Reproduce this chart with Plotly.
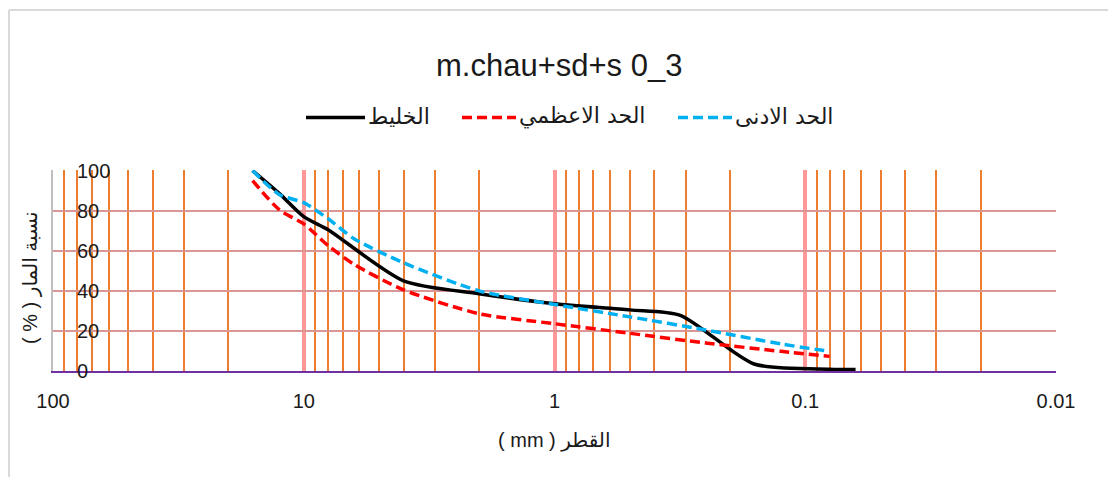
import plotly.graph_objects as go

# ---- data ----
title_text = "m.chau+sd+s 0_3"
series_names = ["الخليط", "الحد الاعظمي", "الحد الادنى"]

mix_size = [16, 12.5, 10, 8, 4, 2, 1, 0.5, 0.315, 0.16, 0.08, 0.063]
mix_pass = [100, 88.5, 77, 70.5, 45, 38.6, 33.6, 30.5, 27.8, 3.5, 0.9, 0.7]

max_size = [16, 12.5, 10, 8, 6.3, 4, 2, 1, 0.5, 0.25, 0.125, 0.08]
max_pass = [95, 80.4, 73.4, 62.6, 53.2, 40.5, 28.6, 23.6, 18.8, 14, 9.8, 7.3]

min_size = [16, 12.5, 10, 8, 6.3, 4, 2, 1, 0.5, 0.25, 0.125, 0.08]
min_pass = [100, 88, 84, 76, 66, 54, 40, 33.2, 27, 20.5, 13.5, 9.8]

x_tick_vals = [100, 10, 1, 0.1, 0.01]
x_tick_text = ["100", "10", "1", "0.1", "0.01"]
decades = [10, 1, 0.1, 0.01]
digits = [2, 3, 4, 5, 6, 7, 8, 9]
y_tick_vals = [0, 20, 40, 60, 80, 100]

x_title = "( mm ) القطر"
y_title = "( % ) نسبة المار"

# ---- layout helpers (page pixel -> paper); page has an 8px body margin ----
OFF = 8
W, H = 1100, 469
ML, MR, MT, MB = 45, 52, 162, 106
PW, PH = W - ML - MR, H - MT - MB


def px(x):
    return (x - OFF - ML) / PW


def py(y):
    return (H - MB - (y - OFF)) / PH


colors = ["#000000", "#FF0000", "#00B0F0"]
dashes = ["solid", "10px,5px", "10px,5px"]
widths = [3.5, 3.5, 3.5]

fig = go.Figure()
for name, xs, ys, c, d, w in zip(series_names,
                                 [mix_size, max_size, min_size],
                                 [mix_pass, max_pass, min_pass],
                                 colors, dashes, widths):
    fig.add_trace(go.Scatter(x=xs, y=ys, name=name, mode="lines",
                             line=dict(color=c, width=w, dash=d,
                                       shape="spline", smoothing=0.7),
                             showlegend=False))

minor_vals = [d * k for d in decades for k in digits]

fig.update_xaxes(type="log", range=[2, -2], tickmode="array",
                 tickvals=x_tick_vals, ticktext=x_tick_text,
                 showgrid=True, gridcolor="#FF9999", gridwidth=4,
                 minor=dict(tickmode="array", tickvals=minor_vals,
                            showgrid=True, gridcolor="#ED7D31", gridwidth=1.5,
                            ticks=""),
                 ticks="", showline=True, linecolor="#7030A0", linewidth=2,
                 zeroline=False,
                 tickfont=dict(family="Liberation Sans", size=20, color="#1a1a1a"),
                 ticklabelstandoff=11)
fig.update_yaxes(range=[0, 100.3], tickmode="array", tickvals=y_tick_vals,
                 showgrid=True, gridcolor="#D99694", gridwidth=1.5,
                 zeroline=False, showline=True, linecolor="#BFBFBF", linewidth=1.5,
                 ticks="", showticklabels=False)

shapes = []
annotations = []
# chart border (top and left)
shapes.append(dict(type="line", xref="paper", yref="paper",
                   x0=px(OFF + 1), y0=py(10), x1=px(W + OFF), y1=py(10),
                   line=dict(color="#D9D9D9", width=2)))
shapes.append(dict(type="line", xref="paper", yref="paper",
                   x0=px(OFF + 1), y0=py(10), x1=px(OFF + 1), y1=py(H + OFF),
                   line=dict(color="#D9D9D9", width=2)))

# y tick labels drawn inside the plot area, as in the reference
for v in y_tick_vals:
    annotations.append(dict(text=str(v), xref="paper", yref="y",
                            x=px(75), y=v, xanchor="left", yanchor="middle",
                            showarrow=False,
                            font=dict(family="Liberation Sans", size=20, color="#1a1a1a")))

# manual legend
leg_y = 117.5
leg_items = [(306, 365), (462, 516), (678, 732)]
for (x0, x1), name, c, d, w in zip(leg_items, series_names, colors, dashes, widths):
    shapes.append(dict(type="line", xref="paper", yref="paper",
                       x0=px(x0), x1=px(x1), y0=py(leg_y), y1=py(leg_y),
                       line=dict(color=c, width=w, dash=d)))
    annotations.append(dict(text=name, xref="paper", yref="paper",
                            x=px(x1 + 1), y=py(leg_y - 1), xanchor="left", yanchor="middle",
                            showarrow=False,
                            font=dict(family="DejaVu Sans", size=22, color="#1a1a1a")))

annotations.append(dict(text=title_text, xref="paper", yref="paper",
                        x=px(559), y=py(65), xanchor="center", yanchor="middle",
                        showarrow=False,
                        font=dict(family="Liberation Sans", size=31, color="#1a1a1a")))
annotations.append(dict(text=x_title, xref="paper", yref="paper",
                        x=px(554), y=py(440), xanchor="center", yanchor="middle",
                        showarrow=False,
                        font=dict(family="Liberation Sans, DejaVu Sans", size=20,
                                  color="#1a1a1a")))
annotations.append(dict(text=y_title, xref="paper", yref="paper",
                        x=px(30), y=py(278), xanchor="center", yanchor="middle",
                        showarrow=False, textangle=-90,
                        font=dict(family="Liberation Sans, DejaVu Sans", size=20,
                                  color="#1a1a1a")))

fig.update_layout(width=W, height=H, margin=dict(l=ML, r=MR, t=MT, b=MB),
                  paper_bgcolor="white", plot_bgcolor="white",
                  shapes=shapes, annotations=annotations, showlegend=False)

fig.write_html("out.html")
